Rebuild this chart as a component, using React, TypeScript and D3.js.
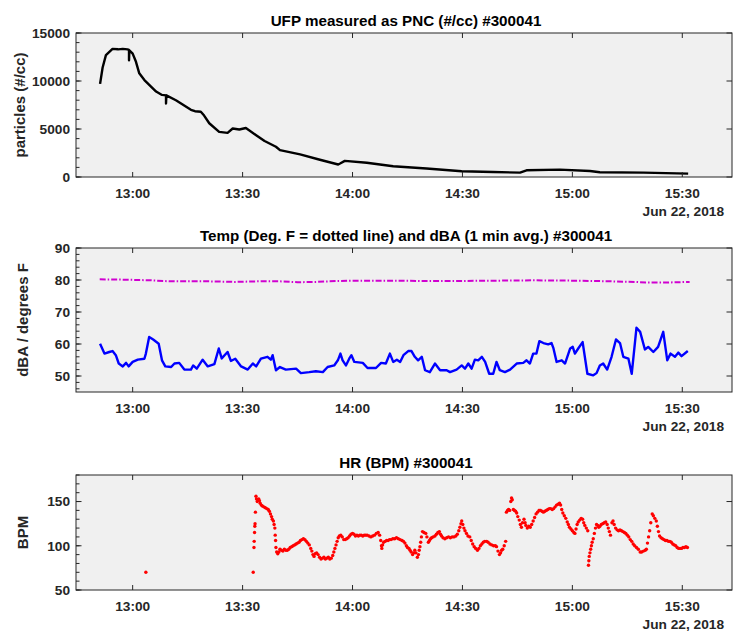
import React from "react";
import * as d3 from "d3";

const width = 733;
const height = 635;
const left = 76;
const right = 732;

// all times are on Jun 22, 2018
const xStart = "12:44:32";
const xEnd = "15:43:34";
const xTickLabels = ["13:00", "13:30", "14:00", "14:30", "15:00", "15:30"];
const dateLabel = "Jun 22, 2018";

const ufpTime = ["12:51:06","12:51:48","12:52:42","12:54:30","12:56:00","12:57:18","12:58:36","12:59:00","12:59:00","12:59:06","13:00:00","13:00:54","13:01:48","13:03:12","13:06:24","13:08:00","13:09:06","13:09:06","13:09:12","13:11:48","13:15:54","13:17:00","13:18:36","13:19:30","13:20:54","13:23:36","13:25:54","13:27:18","13:29:06","13:30:54","13:33:42","13:36:00","13:39:06","13:40:12","13:45:42","13:51:06","13:56:06","13:56:36","13:57:54","14:03:54","14:11:06","14:20:12","14:29:48","14:38:24","14:45:42","14:47:30","14:56:36","15:04:48","15:07:30","15:19:24","15:31:36"];
const ufpValue = [9700,11400,12700,13350,13300,13350,13300,13250,12150,13200,12850,12000,10800,10100,8900,8550,8500,7650,8500,8000,7000,6850,6800,6400,5600,4700,4600,5050,4950,5100,4350,3750,3150,2800,2350,1800,1300,1400,1680,1480,1120,880,600,520,460,700,770,620,490,460,350];

const tempTime = ["12:51:00","12:58:00","13:05:00","13:10:00","13:20:00","13:28:00","13:35:00","13:40:00","13:45:00","13:50:00","13:56:00","14:03:00","14:10:00","14:20:00","14:30:00","14:40:00","14:50:00","15:00:00","15:10:00","15:17:00","15:20:00","15:25:00","15:32:00"];
const tempValue = [80.2,80.1,79.9,79.6,79.6,79.4,79.6,79.6,79.3,79.4,79.7,79.8,79.8,79.7,79.7,79.8,79.9,79.8,79.6,79.4,79.2,79.2,79.4];

const dbaTime = ["12:51:06","12:52:18","12:53:36","12:54:30","12:55:24","12:56:12","12:57:18","12:58:12","12:58:54","13:00:00","13:01:24","13:03:12","13:03:36","13:04:30","13:05:36","13:07:06","13:08:00","13:08:54","13:10:30","13:11:24","13:12:42","13:14:06","13:15:54","13:16:30","13:17:30","13:19:06","13:20:30","13:22:18","13:23:30","13:24:18","13:25:54","13:26:48","13:28:00","13:29:36","13:31:24","13:32:48","13:33:42","13:35:00","13:36:48","13:37:42","13:38:12","13:39:06","13:40:12","13:41:48","13:44:36","13:45:54","13:48:12","13:50:00","13:51:54","13:53:12","13:55:00","13:56:00","13:56:42","13:57:18","13:58:12","13:59:06","13:59:42","14:00:30","14:02:48","14:04:06","14:06:24","14:07:48","14:09:06","14:10:12","14:11:06","14:12:06","14:13:00","14:13:54","14:15:12","14:16:06","14:17:00","14:17:54","14:18:54","14:19:48","14:21:06","14:22:30","14:23:54","14:25:42","14:26:36","14:28:24","14:29:48","14:30:42","14:31:36","14:32:30","14:33:24","14:34:18","14:35:18","14:36:12","14:37:18","14:38:24","14:39:18","14:40:12","14:41:36","14:43:00","14:44:48","14:46:36","14:47:30","14:48:24","14:49:18","14:50:12","14:51:00","14:52:06","14:53:24","14:54:18","14:54:48","14:55:42","14:57:06","14:58:00","14:59:24","15:00:06","15:00:42","15:01:36","15:02:48","15:04:06","15:05:42","15:06:36","15:07:30","15:08:24","15:09:30","15:10:42","15:11:54","15:13:00","15:13:54","15:15:18","15:16:12","15:17:30","15:18:30","15:19:48","15:20:42","15:22:06","15:23:24","15:24:48","15:25:54","15:26:48","15:28:00","15:28:54","15:29:48","15:31:30"];
const dbaValue = [60.1,57.0,57.5,57.8,56.5,53.9,53.0,54.1,53.0,54.4,55.1,55.4,57.0,62.2,61.4,60.1,54.9,53.0,52.8,53.9,54.1,52.0,52.0,53.3,52.3,55.1,53.0,53.7,58.6,55.5,57.5,54.7,55.4,53.0,52.0,53.9,53.0,55.4,56.0,55.1,56.5,51.8,52.8,52.0,52.3,50.9,51.2,51.5,51.2,52.8,53.3,54.9,57.0,54.9,53.3,55.4,56.5,54.4,54.1,52.5,52.5,54.1,53.9,57.0,54.4,55.1,54.4,56.5,57.8,57.8,56.0,54.9,56.0,51.8,51.2,53.9,51.8,51.8,51.2,52.0,53.3,52.3,53.9,52.3,55.1,54.9,56.0,54.4,50.7,50.7,54.4,51.8,51.2,52.0,53.9,54.1,54.9,53.9,57.0,57.0,60.9,60.3,59.9,60.3,58.8,54.4,54.9,53.9,58.6,59.1,57.0,58.6,60.6,50.7,50.2,50.9,53.3,53.9,52.0,56.0,61.4,60.3,56.0,55.4,50.7,65.1,63.8,58.3,59.1,57.5,59.1,63.8,54.9,57.0,56.0,57.3,56.2,57.8];

const hrTime = [
  "13:03:36","13:32:54","13:33:06","13:33:10","13:33:16","13:33:20","13:33:24","13:33:30","13:33:39","13:33:48",
  "13:34:00","13:34:12","13:34:24","13:34:36","13:34:48","13:35:06","13:35:24","13:35:48","13:36:12","13:36:36",
  "13:37:00","13:37:18","13:37:36","13:37:54","13:38:06","13:38:24","13:38:36","13:38:48","13:38:54","13:39:00",
  "13:39:06","13:39:18","13:39:36","13:39:54","13:40:12","13:40:36","13:41:00","13:41:24","13:41:48","13:42:12",
  "13:42:36","13:43:00","13:43:24","13:43:48","13:44:12","13:44:36","13:45:00","13:45:24","13:45:48","13:46:12",
  "13:46:36","13:47:00","13:47:24","13:47:48","13:48:12","13:48:36","13:48:54","13:49:12","13:49:30","13:49:48",
  "13:50:12","13:50:36","13:51:00","13:51:24","13:51:48","13:52:12","13:52:36","13:53:00","13:53:24","13:53:48",
  "13:54:12","13:54:36","13:54:54","13:55:12","13:55:30","13:55:48","13:56:06","13:56:24","13:56:48","13:57:12",
  "13:57:36","13:58:00","13:58:24","13:58:48","13:59:12","13:59:36","14:00:00","14:00:24","14:00:48","14:01:12",
  "14:01:36","14:02:00","14:02:24","14:02:48","14:03:12","14:03:36","14:04:00","14:04:30","14:05:00","14:05:30",
  "14:06:00","14:06:30","14:07:00","14:07:24","14:07:42","14:07:54","14:08:00","14:08:12","14:08:30","14:08:54",
  "14:09:18","14:09:42","14:10:06","14:10:30","14:11:00","14:11:30","14:12:00","14:12:30","14:13:00","14:13:30",
  "14:13:54","14:14:18","14:14:42","14:15:00","14:15:24","14:15:42","14:16:00","14:16:24","14:16:42","14:17:00",
  "14:17:18","14:17:42","14:18:00","14:18:12","14:18:24","14:18:36","14:18:48","14:19:06","14:19:30","14:20:00",
  "14:20:18","14:20:42","14:21:00","14:21:18","14:21:36","14:22:00","14:22:30","14:22:54","14:23:18","14:23:42",
  "14:24:00","14:24:18","14:24:42","14:25:12","14:25:42","14:26:12","14:26:42","14:27:12","14:27:42","14:28:12",
  "14:28:36","14:29:00","14:29:18","14:29:36","14:29:48","14:30:06","14:30:24","14:30:42","14:31:06","14:31:30",
  "14:32:00","14:32:24","14:32:48","14:33:12","14:33:36","14:34:06","14:34:30","14:34:54","14:35:18","14:35:42",
  "14:36:06","14:36:36","14:37:00","14:37:30","14:38:00","14:38:30","14:39:00","14:39:18","14:39:42","14:40:06",
  "14:40:24","14:40:42","14:41:00","14:41:24","14:41:48","14:42:00","14:42:18","14:42:36","14:42:54","14:43:12",
  "14:43:24","14:43:36","14:43:54","14:44:12","14:44:30","14:44:48","14:45:06","14:45:30","14:45:48","14:46:06",
  "14:46:24","14:46:48","14:47:06","14:47:18","14:47:42","14:48:06","14:48:30","14:48:54","14:49:18","14:49:42",
  "14:50:06","14:50:30","14:50:54","14:51:18","14:51:42","14:52:06","14:52:30","14:52:54","14:53:18","14:53:42",
  "14:54:06","14:54:30","14:54:54","14:55:18","14:55:42","14:56:06","14:56:30","14:56:48","14:57:06","14:57:24",
  "14:57:48","14:58:12","14:58:36","14:58:54","14:59:12","14:59:36","15:00:00","15:00:24","15:00:42","15:01:00",
  "15:01:18","15:01:36","15:02:00","15:02:24","15:02:48","15:03:06","15:03:24","15:03:48","15:04:12","15:04:24",
  "15:04:30","15:04:36","15:04:48","15:05:00","15:05:12","15:05:24","15:05:42","15:06:00","15:06:18","15:06:36",
  "15:06:54","15:07:12","15:07:30","15:07:54","15:08:18","15:08:42","15:09:06","15:09:30","15:09:48","15:10:06",
  "15:10:24","15:10:48","15:11:06","15:11:24","15:11:48","15:12:12","15:12:36","15:13:00","15:13:24","15:13:48",
  "15:14:12","15:14:36","15:15:00","15:15:24","15:15:48","15:16:12","15:16:36","15:17:00","15:17:30","15:18:00",
  "15:18:30","15:18:54","15:19:24","15:19:54","15:20:12","15:20:30","15:20:48","15:21:06","15:21:24","15:21:48",
  "15:22:06","15:22:30","15:22:54","15:23:12","15:23:30","15:23:48","15:24:12","15:24:36","15:25:00","15:25:24",
  "15:25:48","15:26:12","15:26:36","15:27:00","15:27:24","15:27:48","15:28:12","15:28:36","15:29:00","15:29:24",
  "15:29:48","15:30:12","15:30:36","15:31:00","15:31:24",
];
const hrValue = [
  70,70,98,105,115,122,125,138,156,153,
  150,152,153,151,148,146,145,144,143,142,
  141,139,136,133,130,128,124,120,112,106,
  98,93,91,93,96,95,94,96,95,95,
  96,98,99,100,101,102,103,104,106,107,
  108,107,105,103,101,97,94,90,88,91,
  92,90,87,85,86,87,85,86,87,85,
  86,89,93,97,101,105,109,111,112,110,
  107,107,108,109,111,113,114,113,111,112,
  111,112,112,111,112,112,112,111,110,111,
  112,114,115,112,106,100,97,101,104,105,
  106,106,107,107,108,108,109,108,107,106,
  105,103,100,98,97,95,93,90,92,95,
  92,87,90,95,99,104,110,116,115,114,
  110,104,106,108,109,110,111,113,115,116,
  113,111,109,108,109,110,109,110,110,111,
  113,117,121,125,128,124,120,117,114,111,
  110,106,102,99,97,95,97,100,102,104,
  105,105,104,102,101,100,100,99,94,90,
  92,95,96,100,105,138,140,141,140,150,
  154,152,141,140,139,137,133,129,124,121,
  126,130,126,123,120,122,121,124,128,132,
  136,138,140,140,139,138,139,140,141,142,
  142,141,142,144,146,147,148,146,141,137,
  134,131,127,124,121,119,117,115,114,119,
  124,127,129,131,130,126,123,120,117,78,
  83,88,92,96,100,104,108,114,120,124,
  123,121,122,124,125,126,127,124,120,116,
  112,126,128,124,120,118,117,118,117,116,
  115,114,112,110,107,105,102,100,98,96,
  93,93,94,95,96,103,110,117,126,136,
  134,131,128,122,116,111,109,108,107,106,
  106,105,105,104,102,101,100,98,97,97,
  97,98,98,99,98,
];

const parseClock = (s: string) => {
  const [h, m, sec] = s.split(":").map(Number);
  return new Date(2018, 5, 22, h, m, sec || 0);
};

const zip = (t: string[], v: number[]) =>
  t.slice(0, Math.min(t.length, v.length)).map((s, i) => ({ t: parseClock(s), v: v[i] }));

const x = d3.scaleTime().domain([parseClock(xStart), parseClock(xEnd)]).range([left, right]);

const axisColor = "#262626";
const font = "'Liberation Sans', Arial, Helvetica, sans-serif";

type PanelProps = {
  id: string;
  top: number;
  bottom: number;
  domain: [number, number];
  ticks: number[];
  minorStep: number;
  title: string;
  ylabel: string;
  ylabelX: number;
  draw: (y: d3.ScaleLinear<number, number>) => React.ReactNode;
};

function Panel({ id, top, bottom, domain, ticks, minorStep, title, ylabel, ylabelX, draw }: PanelProps) {
  const y = d3.scaleLinear().domain(domain).range([bottom, top]);
  const minors = d3.range(Math.ceil(domain[0] / minorStep) * minorStep, domain[1] + 1e-9, minorStep);
  const xt = xTickLabels.map(parseClock);
  const fmt = d3.timeFormat("%H:%M");
  return (
    <g>
      <rect x={left} y={top} width={right - left} height={bottom - top} fill="#f0f0f0" />
      <clipPath id={id}>
        <rect x={left} y={top} width={right - left} height={bottom - top} />
      </clipPath>
      <g clipPath={`url(#${id})`}>{draw(y)}</g>
      <rect x={left} y={top} width={right - left} height={bottom - top} fill="none" stroke={axisColor} strokeWidth={1} />
      {xt.map((d, i) => (
        <g key={"x" + i}>
          <line x1={x(d)} x2={x(d)} y1={bottom} y2={bottom - 5} stroke={axisColor} />
          <line x1={x(d)} x2={x(d)} y1={top} y2={top + 5} stroke={axisColor} />
          <text x={x(d)} y={bottom + 21} textAnchor="middle" fontSize={13.7} fontWeight="bold" fill={axisColor}>
            {fmt(d)}
          </text>
        </g>
      ))}
      <text x={724} y={bottom + 39} textAnchor="end" fontSize={13.7} fontWeight="bold" fill={axisColor}>
        {dateLabel}
      </text>
      {minors.map((m, i) => (
        <line key={"m" + i} x1={left} x2={left + 3.5} y1={y(m)} y2={y(m)} stroke={axisColor} />
      ))}
      {ticks.map((t, i) => (
        <g key={"y" + i}>
          <line x1={left} x2={left + 5.5} y1={y(t)} y2={y(t)} stroke={axisColor} />
          <line x1={right} x2={right - 5.5} y1={y(t)} y2={y(t)} stroke={axisColor} />
          <text x={70} y={y(t)} dy="0.36em" textAnchor="end" fontSize={13.7} fontWeight="bold" fill={axisColor}>
            {t}
          </text>
        </g>
      ))}
      <text x={(left + right) / 2 + 2} y={top - 7} textAnchor="middle" fontSize={15.2} fontWeight="bold" fill="#000">
        {title}
      </text>
      <text
        transform={`translate(${ylabelX},${(top + bottom) / 2}) rotate(-90)`}
        dy="0.35em"
        textAnchor="middle"
        fontSize={15}
        fontWeight="bold"
        fill={axisColor}
      >
        {ylabel}
      </text>
    </g>
  );
}

export default function App() {
  const ufp = zip(ufpTime, ufpValue);
  const temp = zip(tempTime, tempValue);
  const dba = zip(dbaTime, dbaValue);
  const hr = zip(hrTime, hrValue);
  const line = (y: d3.ScaleLinear<number, number>) =>
    d3.line<{ t: Date; v: number }>().x((d) => x(d.t)).y((d) => y(d.v));

  return (
    <svg
      width={width}
      height={height}
      style={{ position: "absolute", left: 0, top: 0, background: "#fff", fontFamily: font }}
    >
      <rect width={width} height={height} fill="#fff" />
      <Panel
        id="c1"
        top={33}
        bottom={177}
        domain={[0, 15000]}
        ticks={[0, 5000, 10000, 15000]}
        minorStep={1000}
        title="UFP measured as PNC (#/cc) #300041"
        ylabel="particles (#/cc)"
        ylabelX={20}
        draw={(y) => <path d={line(y)(ufp) || ""} fill="none" stroke="#000" strokeWidth={2.4} strokeLinejoin="round" />}
      />
      <Panel
        id="c2"
        top={248}
        bottom={392}
        domain={[45, 90]}
        ticks={[50, 60, 70, 80, 90]}
        minorStep={2}
        title="Temp (Deg. F = dotted line) and dBA (1 min avg.) #300041"
        ylabel="dBA / degrees F"
        ylabelX={23}
        draw={(y) => (
          <g>
            <path d={line(y)(temp) || ""} fill="none" stroke="#d000d0" strokeWidth={2} strokeDasharray="6 2 1.5 2" />
            <path d={line(y)(dba) || ""} fill="none" stroke="#0000ff" strokeWidth={2.4} strokeLinejoin="round" />
          </g>
        )}
      />
      <Panel
        id="c3"
        top={475}
        bottom={590}
        domain={[50, 180]}
        ticks={[50, 100, 150]}
        minorStep={10}
        title="HR (BPM) #300041"
        ylabel="BPM"
        ylabelX={23}
        draw={(y) => (
          <g>
            {hr.map((d, i) => (
              <circle key={i} cx={x(d.t)} cy={y(d.v)} r={1.7} fill="#ff0000" />
            ))}
          </g>
        )}
      />
    </svg>
  );
}
